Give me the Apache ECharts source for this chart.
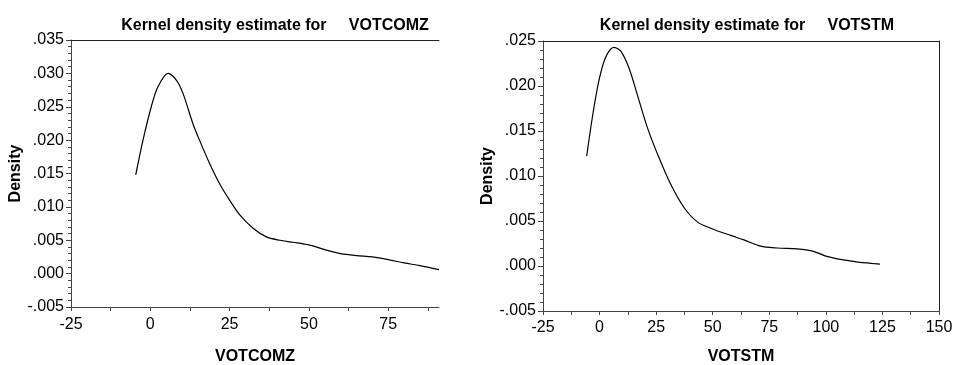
<!DOCTYPE html>
<html>
<head>
<meta charset="utf-8">
<script src="https://cdn.jsdelivr.net/npm/echarts@6/dist/echarts.min.js"></script>
<style>
  html, body { margin: 0; padding: 0; background: #fff; }
  #chart { width: 956px; height: 365px; }
</style>
</head>
<body>
<div id="chart"></div>
<script>
// VOTCOMZ kernel density
const votcomzX = [-4.6, -2.3, 0.3, 2.4, 5.6, 8.2, 10.3, 13.4, 15.5, 18.7, 21.8, 25, 28.2, 32.4, 36.6, 40.8, 45, 50, 55, 60, 65, 70, 75, 80, 85, 91]
const votcomzY = [0.0148, 0.0200, 0.0250, 0.0280, 0.0300, 0.0290, 0.0270, 0.0225, 0.0200, 0.0165, 0.0135, 0.0110, 0.0088, 0.0068, 0.0055, 0.0050, 0.0047, 0.0043, 0.0036, 0.0030, 0.0027, 0.0025, 0.0021, 0.0016, 0.0012, 0.0006]

// VOTSTM kernel density
const votstmX = [-5.7, -3.2, -0.3, 2.7, 6.3, 9.3, 13, 16.6, 21.1, 25.5, 31.4, 37.3, 43.2, 49.1, 57.9, 63.8, 71.2, 78.5, 87.4, 93.2, 97, 100, 105, 110, 115, 120, 123.9]
const votstmY = [0.0122, 0.0165, 0.0206, 0.0232, 0.0243, 0.0239, 0.0220, 0.0191, 0.0154, 0.0125, 0.0091, 0.0065, 0.0049, 0.0042, 0.0034, 0.0029, 0.0022, 0.0020, 0.0019, 0.0017, 0.0014, 0.0011, 0.0008, 0.0006, 0.0004, 0.0003, 0.0002]

const leftXLabels = [-25, 0, 25, 50, 75]
const leftXTicks = [-25, -12.5, 0, 12.5, 25, 37.5, 50, 62.5, 75, 87.5]

const chart = echarts.init(document.getElementById('chart'))

const axisColor = '#444'
const fontFamily = '"Liberation Sans", Arial, sans-serif'
const nameStyle = { fontFamily, fontSize: 16, fontWeight: 'bold', color: '#000' }

const yLabel = v => v.toFixed(3).replace('0.', '.')

const yAxisBase = (min, max, gridIndex) => ({
  type: 'value',
  gridIndex,
  min,
  max,
  interval: 0.005,
  name: 'Density',
  nameLocation: 'middle',
  nameGap: 44,
  nameTextStyle: nameStyle,
  axisLine: { show: true, onZero: false, lineStyle: { color: axisColor, width: 1 } },
  axisTick: { show: true, length: 5, lineStyle: { color: axisColor } },
  minorTick: { show: true, splitNumber: 5, length: 3, lineStyle: { color: axisColor } },
  axisLabel: { formatter: yLabel, fontFamily, fontSize: 16, color: '#000', margin: 7 },
  splitLine: { show: false }
})

const borderAxis = (position, gridIndex, min, max) => ({
  type: 'value',
  gridIndex,
  position,
  min,
  max,
  axisLine: { show: true, onZero: false, lineStyle: { color: '#222', width: 1 } },
  axisTick: { show: false },
  axisLabel: { show: false },
  splitLine: { show: false }
})

const option = {
  animation: false,
  backgroundColor: '#fff',
  title: [
    {
      text: 'Kernel density estimate for     VOTCOMZ',
      left: 270, top: 13, textAlign: 'center',
      textStyle: nameStyle
    },
    {
      text: 'Kernel density estimate for     VOTSTM',
      left: 742, top: 13, textAlign: 'center',
      textStyle: nameStyle
    }
  ],
  grid: [
    { left: 71, top: 40, width: 368, height: 267, outerBoundsMode: 'none' },
    { left: 543, top: 41, width: 396, height: 270, outerBoundsMode: 'none' }
  ],
  xAxis: [
    {
      type: 'value',
      gridIndex: 0,
      min: -25,
      max: 91,
      name: 'VOTCOMZ',
      nameLocation: 'middle',
      nameGap: 42,
      nameTextStyle: nameStyle,
      axisLine: { show: true, onZero: false, lineStyle: { color: axisColor } },
      axisTick: { show: true, length: 4, customValues: leftXTicks, lineStyle: { color: axisColor } },
      axisLabel: { customValues: leftXLabels, fontFamily, fontSize: 16, color: '#000', margin: 10 },
      splitLine: { show: false }
    },
    borderAxis('top', 0, -25, 91),
    {
      type: 'value',
      gridIndex: 1,
      min: -25,
      max: 150,
      interval: 25,
      name: 'VOTSTM',
      nameLocation: 'middle',
      nameGap: 38,
      nameTextStyle: nameStyle,
      axisLine: { show: true, onZero: false, lineStyle: { color: axisColor } },
      axisTick: { show: true, length: 4, lineStyle: { color: axisColor } },
      minorTick: { show: true, splitNumber: 2, length: 4, lineStyle: { color: axisColor } },
      axisLabel: { fontFamily, fontSize: 16, color: '#000', margin: 9 },
      splitLine: { show: false }
    },
    borderAxis('top', 1, -25, 150)
  ],
  yAxis: [
    yAxisBase(-0.005, 0.035, 0),
    yAxisBase(-0.005, 0.025, 1),
    borderAxis('right', 1, -0.005, 0.025)
  ],
  series: [
    {
      type: 'line',
      xAxisIndex: 0,
      yAxisIndex: 0,
      data: votcomzX.map((x, i) => [x, votcomzY[i]]),
      smooth: 0.3,
      showSymbol: false,
      lineStyle: { color: '#000', width: 1.2 }
    },
    {
      type: 'line',
      xAxisIndex: 2,
      yAxisIndex: 1,
      data: votstmX.map((x, i) => [x, votstmY[i]]),
      smooth: 0.3,
      showSymbol: false,
      lineStyle: { color: '#000', width: 1.2 }
    }
  ]
}

chart.setOption(option)
</script>
</body>
</html>
